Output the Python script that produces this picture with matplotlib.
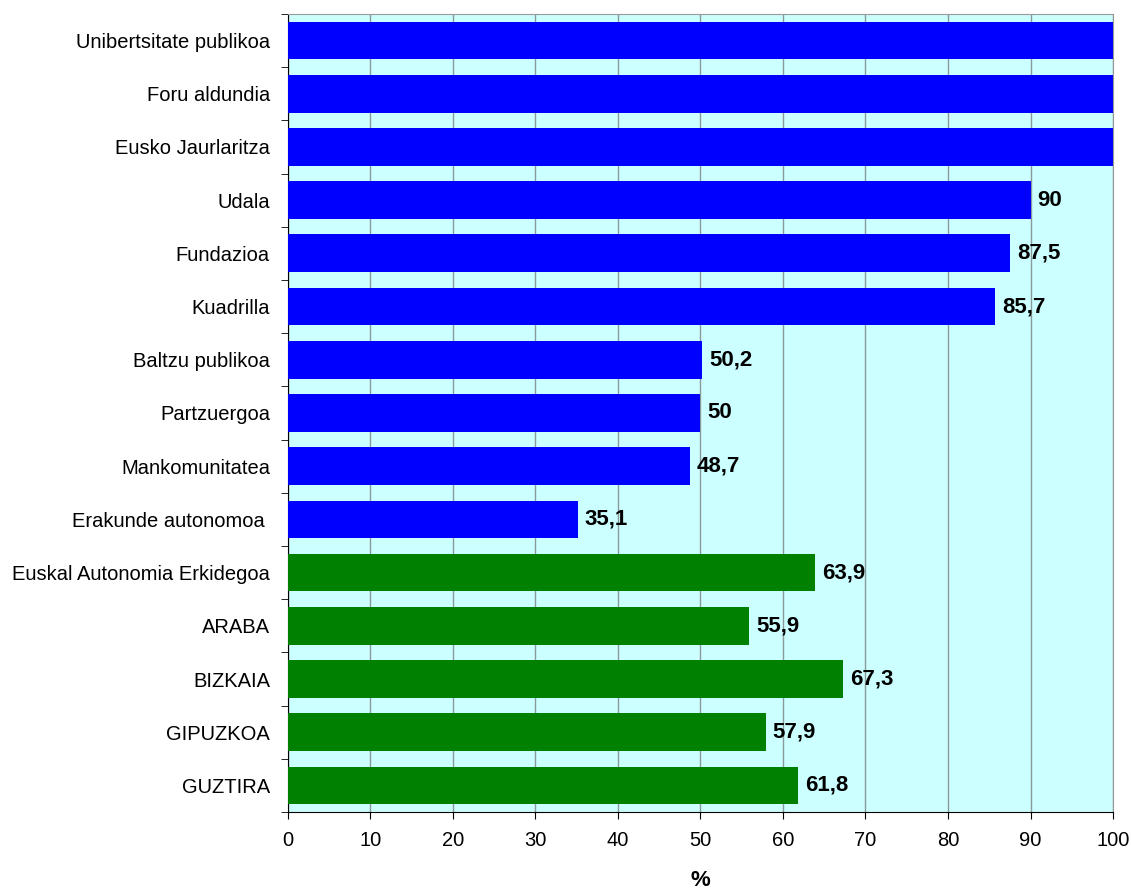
import numpy as np
import matplotlib
matplotlib.use('Agg')
import matplotlib.pyplot as plt

plt.rcParams['font.family'] = ['Liberation Sans', 'DejaVu Sans']

categories = ["Unibertsitate publikoa", "Foru aldundia", "Eusko Jaurlaritza", "Udala",
              "Fundazioa", "Kuadrilla", "Baltzu publikoa", "Partzuergoa", "Mankomunitatea",
              "Erakunde autonomoa ", "Euskal Autonomia Erkidegoa", "ARABA", "BIZKAIA",
              "GIPUZKOA", "GUZTIRA"]
values = [100, 100, 100, 90, 87.5, 85.7, 50.2, 50, 48.7, 35.1, 63.9, 55.9, 67.3, 57.9, 61.8]
groups = ["blue"] * 10 + ["green"] * 5
colors = {"blue": "#0000FF", "green": "#008000"}

fig = plt.figure(figsize=(11.31, 8.89), dpi=100)
ax = fig.add_axes([0.2546, 0.0866, 0.9841 - 0.2546, 0.9843 - 0.0866])
ax.set_facecolor("#CCFFFF")

y = np.arange(len(categories))
ax.barh(y, values, height=0.71, color=[colors[g] for g in groups], zorder=3)
for yi, v in zip(y, values):
    if v < 100:
        ax.text(v + 0.85, yi, f"{v:g}".replace(".", ","), va="center", ha="left",
                fontsize=16, fontweight="bold", zorder=4)

ax.set_xlim(0, 100)
ax.set_ylim(len(categories) - 0.5, -0.5)
ax.set_xticks(np.arange(0, 101, 10))
ax.set_yticks(y)
ax.set_yticklabels(categories, fontsize=14.5)
ax.set_yticks(np.arange(-0.5, len(categories), 1), minor=True)
ax.tick_params(axis='y', which='major', length=0, pad=13)
ax.tick_params(axis='y', which='minor', length=5, direction='out')
ax.tick_params(axis='x', labelsize=14.5, length=5, direction='out', pad=9)
ax.grid(axis='x', color="#8A9A9A", linewidth=1, zorder=1)
ax.set_xlabel("%", fontsize=16, fontweight="bold", labelpad=14)
for s in ["top", "right"]:
    ax.spines[s].set_color("#999999")
for s in ["left", "bottom"]:
    ax.spines[s].set_color("black")

plt.savefig("out.png")
